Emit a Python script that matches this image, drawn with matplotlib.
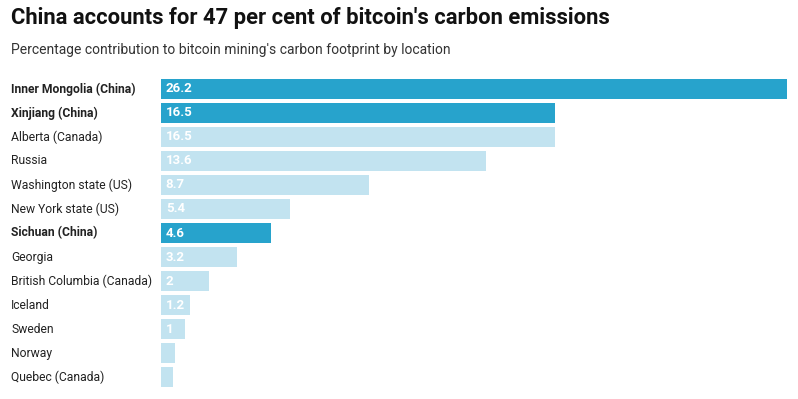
import matplotlib
matplotlib.use("Agg")
import matplotlib.pyplot as plt

plt.rcParams["font.family"] = ["Roboto", "DejaVu Sans"]

# Data
locations = [
    "Inner Mongolia (China)", "Xinjiang (China)", "Alberta (Canada)", "Russia",
    "Washington state (US)", "New York state (US)", "Sichuan (China)", "Georgia",
    "British Columbia (Canada)", "Iceland", "Sweden", "Norway", "Quebec (Canada)",
]
shares = [26.2, 16.5, 16.5, 13.6, 8.7, 5.4, 4.6, 3.2, 2, 1.2, 1, 0.6, 0.5]
value_labels = ["26.2", "16.5", "16.5", "13.6", "8.7", "5.4", "4.6", "3.2", "2", "1.2", "1", "", ""]
is_china = [True, True, False, False, False, False, True, False, False, False, False, False, False]

DARK = "#27a3cc"
LIGHT = "#c2e3f0"

W, H = 798, 399
fig = plt.figure(figsize=(W / 100, H / 100), dpi=100)
ax = fig.add_axes([161 / W, 1 - 387 / H, (787 - 161) / W, (387 - 79) / H])

bar_h = 0.83
colors = [DARK if c else LIGHT for c in is_china]
ax.barh(range(len(locations)), shares, height=bar_h, color=colors)
ax.set_xlim(0, 26.2)
ax.set_ylim(len(locations) - 1 + bar_h / 2, -bar_h / 2)
ax.axis("off")

for i, (name, val, lbl, china) in enumerate(zip(locations, shares, value_labels, is_china)):
    ax.text(-150 / 23.9, i, name, ha="left", va="center", fontsize=8.7,
            fontweight="bold" if china else "normal", color="#222222")
    if lbl:
        ax.text(0.2, i, lbl, ha="left", va="center", fontsize=9.5,
                fontweight="bold", color="white")

fig.text(11 / W, 1 - 18 / H, "China accounts for 47 per cent of bitcoin's carbon emissions",
         ha="left", va="center", fontsize=15.8, fontweight="bold", color="#111111")
fig.text(11 / W, 1 - 50 / H, "Percentage contribution to bitcoin mining's carbon footprint by location",
         ha="left", va="center", fontsize=10, color="#333333")

fig.savefig("out.png", dpi=100)
